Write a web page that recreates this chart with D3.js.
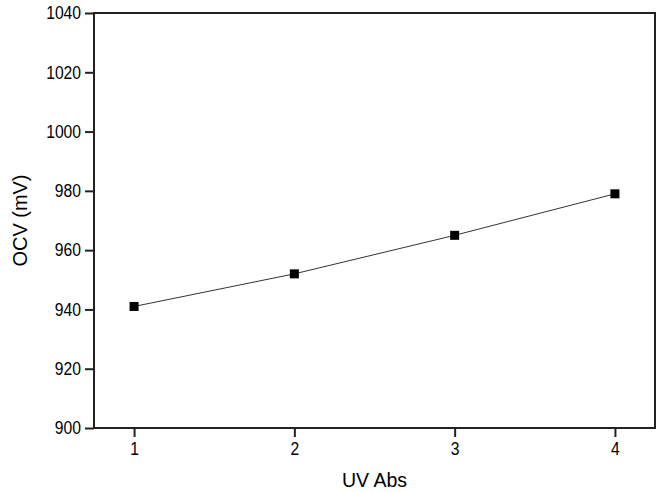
<!DOCTYPE html>
<html>
<head>
<meta charset="utf-8">
<script src="https://cdn.jsdelivr.net/npm/d3@7"></script>
<style>
  body { margin: 0; background: #fff; }
  text { font-family: "Liberation Sans", Arial, sans-serif; fill: #000; }
</style>
</head>
<body>
<div id="chart"></div>
<script>
let uvAbs = [1, 2, 3, 4]
let ocv = [941, 952, 965, 979]
let yTicks = [900, 920, 940, 960, 980, 1000, 1020, 1040]
let xTicks = [1, 2, 3, 4]

let width = 666, height = 492
let margin = {top: 13, right: 11, bottom: 64, left: 94}

let svg = d3.select('#chart').append('svg').attr('width', width).attr('height', height)

let x = d3.scaleLinear().domain([0.75, 4.25]).range([margin.left, width - margin.right])
let y = d3.scaleLinear().domain([900, 1040]).range([height - margin.bottom, margin.top])

// the original font is a bit narrower than Liberation Sans, squeeze it
function squeeze(sel, f) {
    sel.each(function () {
        let len = this.getComputedTextLength()
        d3.select(this).attr('textLength', len * f).attr('lengthAdjust', 'spacingAndGlyphs')
    })
}

// frame
svg.append('rect')
    .attr('x', margin.left).attr('y', margin.top)
    .attr('width', width - margin.left - margin.right)
    .attr('height', height - margin.top - margin.bottom)
    .attr('fill', 'none').attr('stroke', '#222').attr('stroke-width', 2)

let xAxis = svg.append('g').attr('transform', 'translate(0,' + (height - margin.bottom) + ')')
    .call(d3.axisBottom(x).tickValues(xTicks).tickSize(9).tickPadding(5).tickFormat(d3.format('d')))
let yAxis = svg.append('g').attr('transform', 'translate(' + margin.left + ',0)')
    .call(d3.axisLeft(y).tickValues(yTicks).tickSize(9).tickPadding(4).tickFormat(d3.format('d')))

;[xAxis, yAxis].forEach(a => {
    a.select('.domain').remove()
    a.selectAll('line').attr('stroke', '#222').attr('stroke-width', 2)
    a.selectAll('text').style('font-size', '18px').attr('font-family', null)
    squeeze(a.selectAll('text'), 0.87)
})

svg.append('path').datum(uvAbs.map((d, i) => [d, ocv[i]]))
    .attr('fill', 'none').attr('stroke', '#333').attr('stroke-width', 1)
    .attr('d', d3.line().x(d => x(d[0])).y(d => y(d[1])))

svg.selectAll('.pt').data(uvAbs).enter().append('rect')
    .attr('x', (d) => x(d) - 4.5).attr('y', (d, i) => y(ocv[i]) - 4.5)
    .attr('width', 9).attr('height', 9).attr('fill', '#000')

let xl = svg.append('text').attr('x', (margin.left + width - margin.right) / 2).attr('y', 487)
    .attr('text-anchor', 'middle').style('font-size', '21px').text('UV Abs')
squeeze(xl, 0.93)
let yl = svg.append('text').attr('transform', 'translate(27,' + ((margin.top + height - margin.bottom) / 2) + ') rotate(-90)')
    .attr('text-anchor', 'middle').style('font-size', '21px').text('OCV (mV)')
squeeze(yl, 0.95)
</script>
</body>
</html>
